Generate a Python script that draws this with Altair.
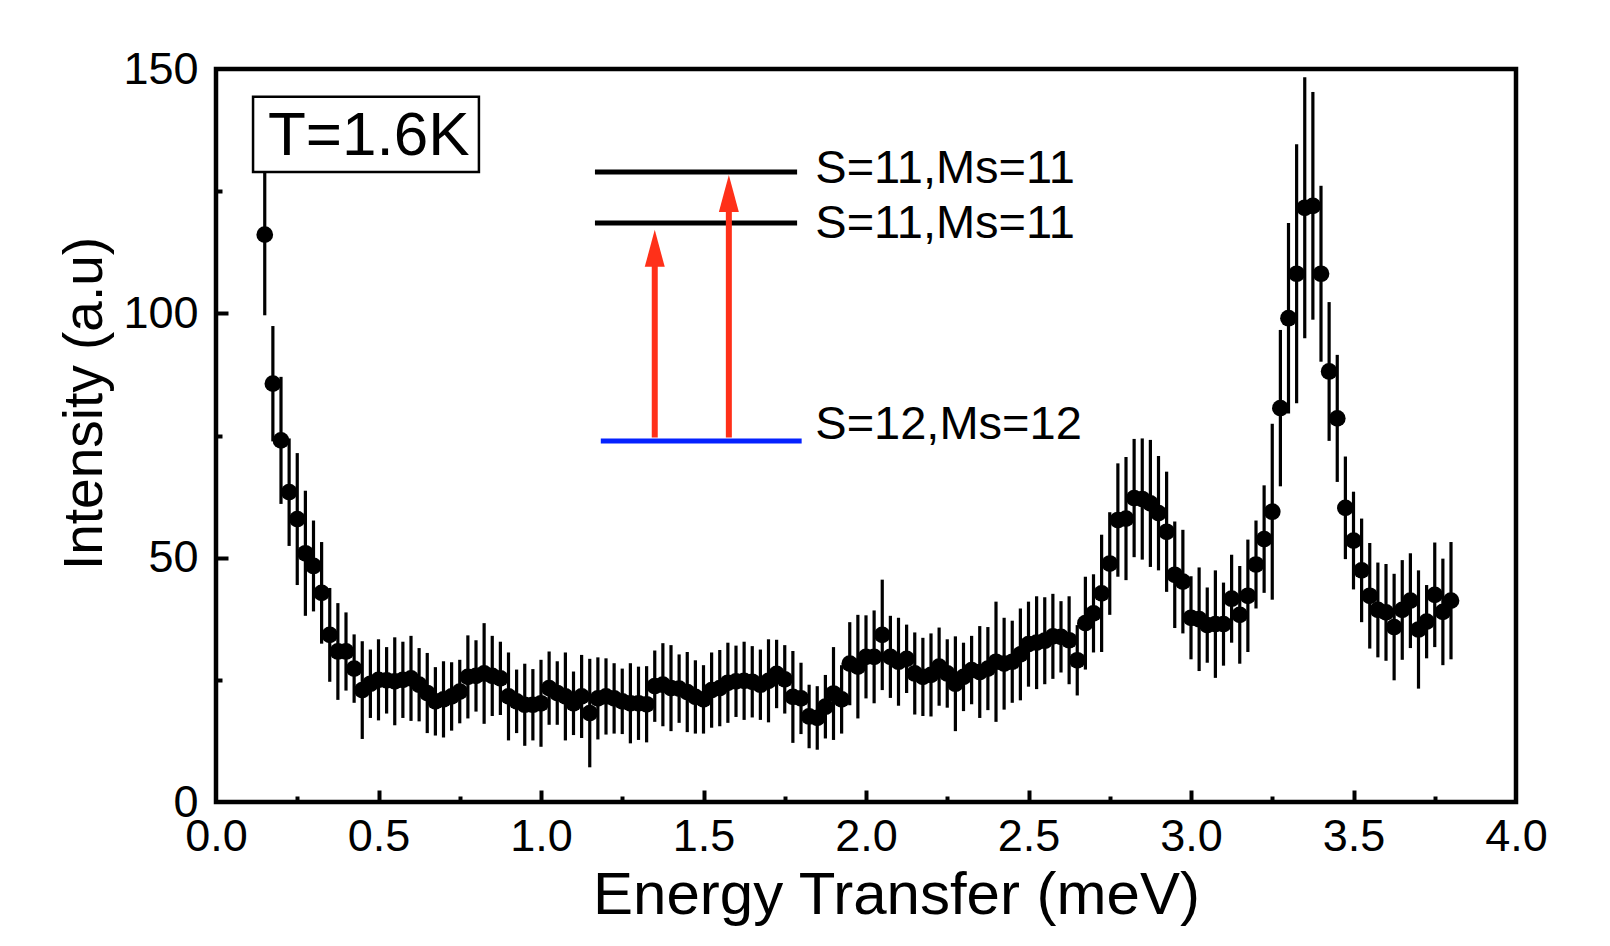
import altair as alt
import pandas as pd

# ---------------- data ----------------
energy = [
    0.150, 0.175, 0.200, 0.225, 0.250, 0.275, 0.300, 0.325, 0.350, 0.375,
    0.400, 0.425, 0.450, 0.475, 0.500, 0.525, 0.550, 0.575, 0.600, 0.625,
    0.650, 0.675, 0.700, 0.725, 0.750, 0.775, 0.800, 0.825, 0.850, 0.875,
    0.900, 0.925, 0.950, 0.975, 1.000, 1.025, 1.050, 1.075, 1.100, 1.125,
    1.150, 1.175, 1.200, 1.225, 1.250, 1.275, 1.300, 1.325, 1.350, 1.375,
    1.400, 1.425, 1.450, 1.475, 1.500, 1.525, 1.550, 1.575, 1.600, 1.625,
    1.650, 1.675, 1.700, 1.725, 1.750, 1.775, 1.800, 1.825, 1.850, 1.875,
    1.900, 1.925, 1.950, 1.975, 2.000, 2.025, 2.050, 2.075, 2.100, 2.125,
    2.150, 2.175, 2.200, 2.225, 2.250, 2.275, 2.300, 2.325, 2.350, 2.375,
    2.400, 2.425, 2.450, 2.475, 2.500, 2.525, 2.550, 2.575, 2.600, 2.625,
    2.650, 2.675, 2.700, 2.725, 2.750, 2.775, 2.800, 2.825, 2.850, 2.875,
    2.900, 2.925, 2.950, 2.975, 3.000, 3.025, 3.050, 3.075, 3.100, 3.125,
    3.150, 3.175, 3.200, 3.225, 3.250, 3.275, 3.300, 3.325, 3.350, 3.375,
    3.400, 3.425, 3.450, 3.475, 3.500, 3.525, 3.550, 3.575, 3.600, 3.625,
    3.650, 3.675, 3.700, 3.725, 3.750, 3.775, 3.800,
]

intensity = [
    116.1, 85.6, 74.0, 63.4, 57.9, 50.9, 48.3, 42.8, 34.2, 30.8,
    30.8, 27.3, 22.9, 24.2, 25.0, 24.9, 24.7, 25.0, 25.3, 24.0,
    22.3, 20.6, 21.0, 21.6, 22.6, 25.6, 25.8, 26.3, 25.8, 25.3,
    21.6, 20.6, 19.9, 19.9, 20.2, 23.3, 22.3, 21.6, 20.2, 21.6,
    18.2, 21.2, 21.6, 21.2, 20.6, 20.2, 20.2, 20.0, 23.7, 24.0,
    23.3, 23.2, 22.5, 21.5, 21.0, 22.9, 23.3, 24.4, 24.7, 24.8,
    24.6, 24.0, 24.8, 26.2, 25.1, 21.5, 21.2, 17.5, 17.2, 19.5,
    22.2, 21.0, 28.3, 27.7, 29.7, 29.7, 34.2, 29.7, 28.7, 29.3,
    26.3, 25.6, 26.0, 27.7, 26.3, 24.2, 25.6, 27.0, 26.6, 27.3,
    28.7, 28.3, 28.7, 30.2, 32.3, 32.6, 33.0, 33.9, 33.8, 33.1,
    29.0, 36.6, 38.6, 42.7, 48.8, 57.7, 58.0, 62.2, 62.0, 61.1,
    59.1, 55.3, 46.5, 45.1, 37.7, 37.4, 36.2, 36.4, 36.4, 41.6,
    38.3, 42.2, 48.6, 53.8, 59.4, 80.6, 99.0, 108.1, 121.6, 122.0,
    108.1, 88.1, 78.5, 60.2, 53.5, 47.4, 42.2, 39.3, 38.8, 35.8,
    39.3, 41.2, 35.3, 36.9, 42.4, 38.9, 41.2,
]

error = [
    16.5, 11.8, 13.0, 11.0, 13.5, 12.8, 9.3, 10.4, 9.6, 9.9,
    8.0, 7.0, 10.0, 7.0, 8.3, 6.8, 9.0, 7.8, 8.7, 7.5,
    8.2, 7.0, 7.8, 7.0, 6.5, 8.5, 7.3, 10.3, 8.2, 7.5,
    9.0, 6.5, 8.4, 7.3, 8.9, 7.5, 6.5, 9.0, 6.5, 8.5,
    11.1, 8.4, 7.8, 7.2, 6.7, 8.2, 7.5, 7.8, 7.3, 8.5,
    8.8, 7.0, 8.2, 7.5, 7.0, 7.7, 7.8, 8.2, 7.3, 8.0,
    7.3, 7.2, 8.5, 7.0, 7.0, 9.4, 7.3, 6.5, 6.5, 6.5,
    9.5, 7.0, 8.5, 10.6, 8.5, 9.5, 11.3, 8.4, 9.0, 7.0,
    8.4, 8.0, 8.5, 8.0, 7.0, 9.7, 7.0, 7.0, 9.4, 8.5,
    12.3, 9.4, 8.4, 9.4, 8.7, 9.5, 8.9, 8.7, 7.3, 9.0,
    7.2, 9.5, 8.0, 12.0, 10.5, 11.6, 12.6, 12.1, 12.4, 13.0,
    11.7, 12.3, 10.9, 10.6, 8.5, 10.6, 7.7, 11.0, 8.5, 9.0,
    10.0, 11.5, 9.0, 11.0, 18.0, 16.0, 19.5, 26.5, 26.7, 23.3,
    18.0, 14.2, 13.0, 10.5, 10.0, 10.6, 10.8, 9.7, 9.9, 10.9,
    10.2, 9.7, 12.1, 7.5, 10.7, 10.9, 12.0,
]

x_tick_labels = [0.0, 0.5, 1.0, 1.5, 2.0, 2.5, 3.0, 3.5, 4.0]
x_major = [0.5, 1.0, 1.5, 2.0, 2.5, 3.0, 3.5]
x_minor = [0.25, 0.75, 1.25, 1.75, 2.25, 2.75, 3.25, 3.75]
y_tick_labels = [0, 50, 100, 150]
y_major = [50, 100]
y_minor = [25, 75, 125]

# energy-level diagram (inset, in data units)
level_x1 = [1.166, 1.166, 1.184]
level_x2 = [1.788, 1.788, 1.802]
level_y = [128.9, 118.5, 73.9]
level_color = ["#000000", "#000000", "#0522ff"]
level_text = ["S=11,Ms=11", "S=11,Ms=11", "S=12,Ms=12"]
level_text_x = [1.844, 1.844, 1.844]
level_text_y = [126.6, 115.5, 74.2]

arrow_x = [1.350, 1.578]
arrow_y0 = [74.6, 74.6]
arrow_y1 = [112.0, 123.5]
arrow_head_y = [113.3, 124.5]

box_x = [0.114]
box_x2 = [0.809]
box_y = [128.9]
box_y2 = [144.3]
box_label = ["T=1.6K"]
box_label_x = [0.470]
box_label_y = [132.4]

RED = "#ff3019"
FONT = "Liberation Sans"

# ---------------- tables ----------------
df = pd.DataFrame({"E": energy, "I": intensity, "err": error})
df["lo"] = df["I"] - df["err"]
df["hi"] = df["I"] + df["err"]

levels = pd.DataFrame({"x1": level_x1, "x2": level_x2, "y": level_y, "c": level_color})
labels = pd.DataFrame({"x": level_text_x, "y": level_text_y, "t": level_text})
arrows = pd.DataFrame({"x": arrow_x, "y0": arrow_y0, "y1": arrow_y1, "hy": arrow_head_y})
box = pd.DataFrame({"x": box_x, "x2": box_x2, "y": box_y, "y2": box_y2})
box_txt = pd.DataFrame({"x": box_label_x, "y": box_label_y, "t": box_label})

xs = alt.Scale(domain=[0, 4], nice=False, zero=False)
ys = alt.Scale(domain=[0, 150], nice=False, zero=False)

W, H = 1300, 733

# main (labelled) axes
x_axis_main = alt.Axis(
    orient="bottom", values=x_tick_labels, format=".1f", ticks=False, tickSize=0,
    domain=False, grid=False, labelFontSize=45, labelPadding=12, labelFlush=False,
    labelOverlap=False, title="Energy Transfer (meV)", titleFontSize=60,
    titleFontWeight="normal", titleX=680, titleY=111, titleBaseline="alphabetic",
    titleAnchor="middle", titleAlign="center",
)
y_axis_main = alt.Axis(
    orient="left", values=y_tick_labels, ticks=False, tickSize=0, domain=False,
    grid=False, labelFontSize=45, labelPadding=18, labelOverlap=False,
    title="Intensity (a.u)", titleFontSize=55, titleFontWeight="normal",
    titleAngle=270, titleX=-115, titleY=334, titleBaseline="alphabetic",
    titleAlign="center",
)

# inward tick axes (placed on the opposite side and pulled across the plot)
def x_ticks(values, size):
    return alt.Axis(orient="top", offset=-H, values=values, labels=False, domain=False,
                    grid=False, ticks=True, tickSize=size, tickWidth=4,
                    tickColor="black", title=None)

def y_ticks(values, size):
    return alt.Axis(orient="right", offset=-W, values=values, labels=False, domain=False,
                    grid=False, ticks=True, tickSize=size, tickWidth=4,
                    tickColor="black", title=None)

errbars = alt.Chart(df).mark_rule(color="black", strokeWidth=3.2).encode(
    x=alt.X("E:Q", scale=xs, axis=x_axis_main),
    y=alt.Y("lo:Q", scale=ys, axis=y_axis_main),
    y2="hi:Q",
)

points = alt.Chart(df).mark_circle(color="black", size=280, opacity=1).encode(
    x=alt.X("E:Q", scale=xs, axis=x_ticks(x_major, 12)),
    y=alt.Y("I:Q", scale=ys, axis=y_ticks(y_major, 12)),
)

level_lines = alt.Chart(levels).mark_rule(strokeWidth=5).encode(
    x=alt.X("x1:Q", scale=xs, axis=x_ticks(x_minor, 6)),
    x2="x2:Q",
    y=alt.Y("y:Q", scale=ys, axis=y_ticks(y_minor, 6)),
    color=alt.Color("c:N", scale=None),
)

shafts = alt.Chart(arrows).mark_rule(color=RED, strokeWidth=6).encode(
    x=alt.X("x:Q", scale=xs, axis=None),
    y=alt.Y("y0:Q", scale=ys, axis=None),
    y2="y1:Q",
)

heads = alt.Chart(arrows).mark_point(
    shape="M -0.54 1 L 0.54 1 L 0 -1 Z", filled=True, size=1369, color=RED,
    opacity=1, strokeWidth=0,
).encode(
    x=alt.X("x:Q", scale=xs, axis=None),
    y=alt.Y("hy:Q", scale=ys, axis=None),
)

level_labels = alt.Chart(labels).mark_text(
    align="left", baseline="alphabetic", font=FONT, fontSize=47, color="black",
).encode(
    x=alt.X("x:Q", scale=xs, axis=None),
    y=alt.Y("y:Q", scale=ys, axis=None),
    text="t:N",
)

box_rect = alt.Chart(box).mark_rect(fill="white", stroke="black", strokeWidth=2.5).encode(
    x=alt.X("x:Q", scale=xs, axis=None),
    x2="x2:Q",
    y=alt.Y("y:Q", scale=ys, axis=None),
    y2="y2:Q",
)

box_text = alt.Chart(box_txt).mark_text(
    align="center", baseline="alphabetic", font=FONT, fontSize=62, color="black",
).encode(
    x=alt.X("x:Q", scale=xs, axis=None),
    y=alt.Y("y:Q", scale=ys, axis=None),
    text="t:N",
)

chart = (
    alt.layer(errbars, points, level_lines, shafts, heads, level_labels, box_rect, box_text)
    .resolve_axis(x="independent", y="independent")
    .properties(
        width=W, height=H,
        autosize=alt.AutoSizeParams(type="none"),
        padding={"left": 208, "top": 61, "right": 60, "bottom": 130},
        background="white",
    )
    .configure_view(stroke="black", strokeWidth=4.5)
    .configure_axis(labelFont=FONT, titleFont=FONT, labelColor="black",
                    titleColor="black", tickColor="black")
)

chart.save("out.html", embed_options={"renderer": "svg", "actions": False})
